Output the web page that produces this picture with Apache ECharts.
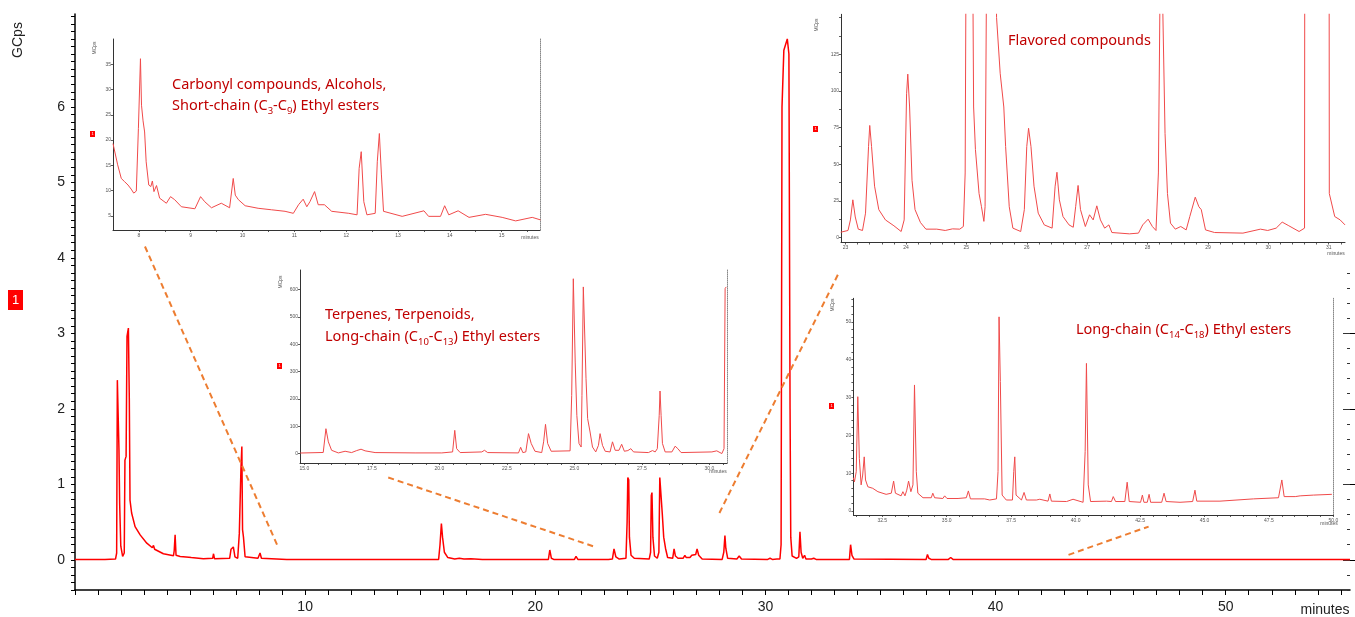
<!DOCTYPE html>
<html>
<head>
<meta charset="utf-8">
<script src="https://cdn.jsdelivr.net/npm/echarts@6/dist/echarts.min.js"></script>
<style>
html, body { margin: 0; padding: 0; background: #fff; }
#main { width: 1355px; height: 617px; }
</style>
</head>
<body>
<div id="main"></div>
<script>
// main chromatogram, [minutes, GCps]
var mainTrace = [
  [0, 0.005], [1.2, 0.005], [1.25, 0.03], [1.3, 0.005], [1.76, 0.01], [1.81, 0.09], [1.84, 2.38], [1.88, 2.39],
  [1.91, 1.46], [1.94, 0.75], [1.99, 0.18], [2.07, 0.044], [2.14, 0.09], [2.17, 1.32], [2.22, 1.37], [2.26, 2.96],
  [2.32, 3.07], [2.36, 2.12], [2.39, 0.79], [2.46, 0.62], [2.61, 0.44], [2.83, 0.33], [3.12, 0.22], [3.36, 0.16],
  [3.41, 0.19], [3.46, 0.14], [3.84, 0.08], [4.28, 0.055], [4.31, 0.12], [4.35, 0.33], [4.39, 0.06], [4.57, 0.045],
  [4.95, 0.035], [5.0, 0.06], [5.05, 0.03], [5.58, 0.015], [5.98, 0.02], [6.02, 0.08], [6.06, 0.015], [6.72, 0.02],
  [6.78, 0.14], [6.83, 0.12], [6.88, 0.17], [6.95, 0.04], [7.07, 0.02], [7.14, 0.35], [7.21, 1.2], [7.25, 1.5],
  [7.28, 0.4], [7.32, 0.3], [7.39, 0.04], [7.95, 0.02], [8.04, 0.09], [8.1, 0.02], [9.2, 0.005], [9.25, 0.02],
  [9.3, 0.005], [9.78, 0.005], [9.82, 0.015], [9.86, 0.005], [11.32, 0.005], [11.38, 0.02], [11.44, 0.005],
  [12.2, 0.005], [12.26, 0.03], [12.32, 0.005], [12.54, 0.005], [12.6, 0.03], [12.66, 0.005], [15.8, 0.005],
  [15.86, 0.2], [15.92, 0.48], [15.97, 0.3], [16.05, 0.1], [16.2, 0.03], [16.5, 0.01], [16.7, 0.02], [16.9, 0.01],
  [17.2, 0.015], [17.7, 0.005], [19.0, 0.005], [19.04, 0.012], [19.1, 0.005], [19.74, 0.005], [19.77, 0.012],
  [19.8, 0.005], [20.57, 0.005], [20.63, 0.13], [20.7, 0.02], [20.8, 0.005], [21.7, 0.005], [21.77, 0.045],
  [21.85, 0.005], [23.06, 0.005], [23.12, 0.03], [23.18, 0.005], [23.35, 0.01], [23.42, 0.145], [23.5, 0.04],
  [23.65, 0.01], [23.94, 0.02], [23.99, 0.5], [24.02, 1.09], [24.06, 1.06], [24.09, 0.3], [24.16, 0.06],
  [24.3, 0.02], [24.95, 0.01], [25.01, 0.1], [25.04, 0.85], [25.07, 0.89], [25.11, 0.3], [25.18, 0.05],
  [25.3, 0.02], [25.37, 0.1], [25.41, 1.09], [25.48, 1.09], [25.52, 0.6], [25.58, 0.3], [25.66, 0.15],
  [25.75, 0.03], [25.97, 0.02], [26.03, 0.145], [26.09, 0.05], [26.2, 0.02], [26.42, 0.02], [26.5, 0.06],
  [26.56, 0.03], [26.72, 0.03], [26.8, 0.06], [26.86, 0.04], [26.97, 0.07], [27.03, 0.145], [27.1, 0.06],
  [27.25, 0.01], [28.12, 0.005], [28.19, 0.1], [28.24, 0.32], [28.28, 0.15], [28.36, 0.02], [28.76, 0.01],
  [28.86, 0.05], [28.96, 0.01], [30.1, 0.005], [30.2, 0.02], [30.3, 0.005], [30.5, 0.01], [30.57, 0.02],
  [30.63, 0.01], [30.68, 0.2], [30.72, 6.0], [30.8, 6.75], [30.95, 6.9], [31.02, 6.7], [31.07, 2.0], [31.1, 0.3],
  [31.16, 0.05], [31.35, 0.02], [31.45, 0.04], [31.5, 0.37], [31.55, 0.1], [31.62, 0.02], [31.7, 0.06],
  [31.76, 0.01], [32.0, 0.01], [32.1, 0.02], [32.2, 0.005], [33.65, 0.005], [33.7, 0.2], [33.76, 0.06],
  [33.85, 0.01], [36.98, 0.005], [37.04, 0.07], [37.1, 0.02], [37.2, 0.005], [37.95, 0.005], [38.05, 0.03],
  [38.15, 0.005], [40.52, 0.005], [40.58, 0.03], [40.65, 0.005], [42.85, 0.005], [42.9, 0.015], [42.95, 0.005],
  [48.2, 0.005], [48.25, 0.015], [48.3, 0.005], [55.4, 0.005]
];

// inset 1: 7.5 - 15.7 min, MCps
var shortChainTrace = [
  [7.5, 19.3], [7.59, 15.1], [7.66, 12.4], [7.72, 11.8], [7.79, 11.1], [7.85, 10.3], [7.9, 9.5], [7.95, 9.9],
  [7.99, 22.3], [8.03, 36.1], [8.05, 26.9], [8.08, 23.8], [8.11, 21.6], [8.14, 15.7], [8.19, 11.1], [8.23, 10.8],
  [8.26, 11.9], [8.29, 9.8], [8.34, 11], [8.4, 8.5], [8.53, 7.5], [8.61, 8.8], [8.69, 8.2], [8.82, 6.8],
  [9.08, 6.4], [9.19, 8.8], [9.27, 7.8], [9.4, 6.6], [9.59, 7.5], [9.75, 6.6], [9.82, 12.4], [9.86, 9.1],
  [9.92, 8.2], [10.05, 7], [10.3, 6.5], [10.56, 6.2], [10.82, 5.9], [10.98, 5.5], [11.08, 7.2], [11.17, 8.3],
  [11.24, 6.8], [11.3, 7.8], [11.39, 9.8], [11.46, 7.2], [11.58, 7.2], [11.72, 5.9], [12.05, 5.5], [12.21, 5.2],
  [12.25, 14.4], [12.29, 17.7], [12.34, 7.8], [12.4, 5.2], [12.56, 5.5], [12.6, 15.7], [12.64, 21.3],
  [12.68, 13.1], [12.72, 5.9], [13.08, 4.9], [13.5, 6], [13.59, 4.9], [13.82, 4.9], [13.9, 7], [13.98, 5.2],
  [14.16, 6], [14.37, 4.7], [14.69, 5.3], [15.01, 4.7], [15.27, 4], [15.59, 4.7], [15.75, 4.2]
];

// inset 2: 14.8 - 30.6 min, MCps
var terpeneTrace = [
  [14.85, 2], [15.7, 4], [15.8, 91], [15.89, 43], [16.01, 12], [16.26, 2.4], [16.51, 8.5], [16.75, 3.7],
  [16.94, 11], [17.1, 16], [17.25, 10], [17.62, 3.7], [19.1, 2.4], [20.09, 2.4], [20.49, 6], [20.57, 85],
  [20.64, 18], [20.77, 3.7], [21.57, 6], [21.67, 12], [21.79, 3.7], [22.93, 2.4], [23.01, 23], [23.09, 3.7],
  [23.2, 6], [23.3, 73], [23.4, 37], [23.54, 8.5], [23.79, 3.7], [23.86, 43], [23.93, 107], [24.01, 37],
  [24.14, 8.5], [24.84, 10], [24.9, 213], [24.96, 640], [25.03, 335], [25.09, 140], [25.17, 37], [25.25, 24],
  [25.28, 213], [25.33, 610], [25.4, 610], [25.43, 274], [25.49, 128], [25.58, 79], [25.67, 24], [25.79, 6],
  [25.89, 30], [25.95, 73], [26.04, 30], [26.14, 8.5], [26.32, 6], [26.41, 43], [26.51, 12], [26.65, 12],
  [26.75, 34], [26.85, 8.5], [26.98, 11], [27.09, 18], [27.19, 6], [27.74, 3.7], [27.89, 11], [27.99, 6],
  [28.07, 18], [28.14, 140], [28.17, 229], [28.21, 140], [28.26, 37], [28.36, 6], [28.61, 6], [28.73, 27],
  [28.83, 18], [28.95, 3.7], [30.09, 6], [30.27, 10], [30.46, 0], [30.54, 18], [30.58, 604], [30.62, 610]
];

// inset 3: 22.9 - 31.3 min, MCps
var flavorTrace = [
  [22.92, 3.6], [23.04, 4.8], [23.08, 12], [23.12, 25.7], [23.16, 14], [23.21, 5.7], [23.28, 4.8], [23.33, 16.6],
  [23.38, 62], [23.4, 76.4], [23.43, 62], [23.48, 35], [23.55, 19], [23.66, 12], [23.8, 8], [23.92, 4.1],
  [23.97, 12], [24.01, 98], [24.03, 111.4], [24.06, 89], [24.1, 39], [24.15, 19], [24.24, 10.2], [24.33, 5.7],
  [24.51, 5.7], [24.65, 4.8], [24.77, 5.9], [24.89, 5.7], [24.95, 7.5], [24.98, 44], [25.04, 640], [25.12, 89],
  [25.15, 60], [25.21, 30], [25.25, 21], [25.29, 11], [25.31, 21], [25.4, 610], [25.5, 150], [25.56, 112],
  [25.62, 89], [25.65, 62], [25.71, 21], [25.77, 6.4], [25.9, 4.1], [25.96, 19], [26.0, 62], [26.03, 74.5],
  [26.07, 62], [26.12, 35], [26.19, 16.6], [26.29, 8.6], [26.42, 6.4], [26.47, 35], [26.5, 44.5], [26.54, 25.7],
  [26.6, 14.3], [26.7, 8.6], [26.77, 7], [26.81, 21], [26.85, 35.5], [26.89, 19], [26.97, 7.5], [27.04, 15.5],
  [27.1, 12], [27.16, 21.6], [27.22, 12], [27.29, 6.4], [27.36, 8.6], [27.41, 3.4], [27.7, 2.5], [27.85, 3],
  [27.92, 8.6], [28.01, 12.5], [28.08, 7.5], [28.14, 4.8], [28.18, 44], [28.22, 229], [28.29, 71], [28.33, 30],
  [28.38, 9.8], [28.46, 5.7], [28.55, 7.5], [28.64, 5.2], [28.7, 14.3], [28.79, 27.5], [28.85, 21], [28.89, 19],
  [28.96, 5.2], [29.11, 3.4], [29.58, 3], [29.87, 5.7], [29.99, 4.8], [30.13, 6.4], [30.23, 10.5], [30.34, 8],
  [30.51, 4.1], [30.6, 6.4], [30.64, 2000], [30.8, 6800], [30.98, 2000], [31.01, 30], [31.1, 14.3],
  [31.19, 12], [31.27, 8.6]
];

// inset 4: 31.4 - 50 min, MCps
var longChainTrace = [
  [31.38, 8.8], [31.42, 7.7], [31.49, 10.4], [31.55, 30.2], [31.61, 13.9], [31.68, 6.9], [31.74, 9.5], [31.8, 14.3],
  [31.85, 8.2], [31.94, 6.4], [32.13, 6], [32.33, 5.1], [32.65, 4.4], [32.85, 4.7], [32.94, 7.9], [33.01, 4.7],
  [33.23, 4], [33.3, 5.1], [33.38, 4], [33.45, 5.5], [33.52, 7.9], [33.61, 5.1], [33.69, 6.9], [33.75, 33.3],
  [33.82, 10.4], [33.88, 4.7], [34.08, 3.5], [34.4, 3.5], [34.46, 4.7], [34.53, 3.5], [34.85, 3.3], [34.92, 4],
  [35.01, 3.3], [35.44, 3.3], [35.5, 3.8], [35.76, 3.5], [35.84, 5.3], [35.92, 3.2], [36.47, 3.2], [36.54, 3.7],
  [36.67, 2.9], [36.93, 3.2], [36.99, 10.4], [37.03, 51.3], [37.08, 34.2], [37.15, 4.2], [37.31, 2.9],
  [37.55, 2.9], [37.6, 10.4], [37.64, 14.3], [37.69, 4.2], [37.9, 2.9], [38.0, 4.9], [38.09, 2.9], [38.48, 2.9],
  [38.61, 3.1], [38.93, 2.6], [39.0, 4.5], [39.06, 2.6], [39.65, 2.5], [39.9, 3.1], [40.29, 2.3], [40.37, 15.7],
  [40.42, 39], [40.49, 6.9], [40.58, 2.5], [41.2, 2.6], [41.39, 2.5], [41.46, 3.8], [41.55, 2.5], [41.91, 2.5],
  [42.0, 7.6], [42.08, 2.5], [42.52, 2.3], [42.59, 4.2], [42.65, 2.3], [42.78, 2.3], [42.85, 4.4], [42.91, 2.3],
  [43.34, 2.3], [43.43, 4.7], [43.51, 2.5], [44.05, 2.3], [44.54, 2.5], [44.63, 5.5], [44.7, 2.6], [45.6, 2.6],
  [46.9, 3.2], [47.87, 3.5], [48.0, 8.2], [48.09, 3.8], [48.52, 3.8], [48.58, 4.2], [48.71, 4], [49.23, 4.2],
  [49.94, 4.4]
];

// dashed connectors from each inset to its region of the main trace (main axes units)
var link1 = [[3.04, 4.15], [8.78, 0.2]];
var link2 = [[13.61, 1.09], [22.61, 0.17]];
var link3 = [[28.0, 0.62], [33.17, 3.79]];
var link4 = [[43.17, 0.066], [46.65, 0.44]];

// tick labels
var mainXLabels = [10, 20, 30, 40, 50];
var mainYLabels = [0, 1, 2, 3, 4, 5, 6];
var inset1XLabels = [8, 9, 10, 11, 12, 13, 14, 15];
var inset1YLabels = [5, 10, 15, 20, 25, 30, 35];
var inset2XLabels = [15, 17.5, 20, 22.5, 25, 27.5, 30];
var inset2YLabels = [0, 100, 200, 300, 400, 500, 600];
var inset3XLabels = [23, 24, 25, 26, 27, 28, 29, 30, 31];
var inset3YLabels = [0, 25, 50, 75, 100, 125];
var inset4XLabels = [32.5, 35, 37.5, 40, 42.5, 45, 47.5, 50];
var inset4YLabels = [0, 10, 20, 30, 40, 50];

function steps(a, b, d) {
  var out = [];
  for (var v = a; v <= b + 1e-9; v += d) out.push(+v.toFixed(3));
  return out;
}
function oneDec(v) { return v.toFixed(1); }

var RED = '#ff0000';
var INSET_RED = '#f04a4a';
var LABEL_RED = '#c00000';
var FONT = 'Liberation Sans';

function insetX(gi, min, max, labels, ticks, fmt) {
  return {
    type: 'value', gridIndex: gi, min: min, max: max, z: 5,
    axisLine: { onZero: false, lineStyle: { color: '#333', width: 1 } },
    axisTick: { customValues: ticks, length: 2, lineStyle: { color: '#333', width: 0.8 } },
    axisLabel: { customValues: labels, fontSize: 5, color: '#555', margin: 3, fontFamily: FONT, formatter: fmt },
    splitLine: { show: false }
  };
}
function insetY(gi, min, max, labels, ticks) {
  return {
    type: 'value', gridIndex: gi, min: min, max: max, z: 5,
    axisLine: { onZero: false, lineStyle: { color: '#333', width: 1 } },
    axisTick: { customValues: ticks, length: 2, lineStyle: { color: '#333', width: 0.8 } },
    axisLabel: { customValues: labels, fontSize: 5, color: '#555', margin: 2, fontFamily: FONT },
    splitLine: { show: false }
  };
}
function dottedRight(gi, min, max) {
  return {
    type: 'value', gridIndex: gi, min: min, max: max, position: 'right', z: 5,
    axisLine: { onZero: false, lineStyle: { color: '#888', width: 1, type: 'dotted' } },
    axisTick: { show: false }, axisLabel: { show: false }, splitLine: { show: false }
  };
}
function trace(data, xi, yi, color, width, z) {
  return {
    type: 'line', data: data, xAxisIndex: xi, yAxisIndex: yi, showSymbol: false, symbol: 'none',
    lineStyle: { color: color, width: width }, z: z, silent: true
  };
}
function link(data) {
  return {
    type: 'line', data: data, xAxisIndex: 0, yAxisIndex: 0, showSymbol: false, symbol: 'none', z: 6,
    lineStyle: { color: '#ed7d31', width: 2, type: [6, 4] }, silent: true
  };
}
function tinyText(x, y, text, rot) {
  return {
    type: 'text', x: x, y: y, rotation: rot || 0, z: 10,
    style: { text: text, fontSize: 5, fill: '#555', fontFamily: FONT, align: 'center', verticalAlign: 'middle' }
  };
}
function redBox(x, y, w, h, fs) {
  return {
    type: 'group', x: x, y: y, z: 10,
    children: [
      { type: 'rect', shape: { x: 0, y: 0, width: w, height: h }, style: { fill: RED }, z: 10 },
      { type: 'text', x: w / 2, y: h / 2, z: 11,
        style: { text: '1', fontSize: fs, fill: '#fff', fontFamily: FONT, align: 'center', verticalAlign: 'middle' } }
    ]
  };
}
function whiteBg(x, y, w, h) {
  return { type: 'rect', shape: { x: x, y: y, width: w, height: h }, style: { fill: '#fff' }, z: 3, silent: true };
}
var richStyle = {
  n: { fontSize: 14.5, fill: LABEL_RED, color: LABEL_RED, fontFamily: 'Noto Sans', lineHeight: 20 },
  s: { fontSize: 9.5, fill: LABEL_RED, color: LABEL_RED, fontFamily: 'Noto Sans', lineHeight: 10, verticalAlign: 'bottom' }
};
function note(x, y, text) {
  return {
    type: 'text', x: x, y: y, z: 10,
    style: { text: text, rich: richStyle, fontSize: 14.5, fill: LABEL_RED, fontFamily: 'Noto Sans',
             align: 'left', verticalAlign: 'middle' }
  };
}

var chart = echarts.init(document.getElementById('main'));
chart.setOption({
  animation: false,
  backgroundColor: '#fff',
  grid: [
    { left: 75, right: 5, top: 14, bottom: 27 },
    { left: 113, top: 39, width: 427, height: 191 },
    { left: 300, top: 270, width: 427, height: 193 },
    { left: 841, top: 14.3, width: 504, height: 228.2 },
    { left: 853.4, top: 298.3, width: 480, height: 216.7 }
  ],
  xAxis: [
    {
      type: 'value', gridIndex: 0, min: 0, max: 55.4,
      axisLine: { onZero: false, lineStyle: { color: '#000', width: 1.5 } },
      axisTick: { customValues: steps(0, 55, 1), length: 5, lineStyle: { color: '#000' } },
      axisLabel: { customValues: mainXLabels, fontSize: 14, color: '#222', margin: 10, fontFamily: FONT },
      splitLine: { show: false }
    },
    insetX(1, 7.5, 15.74, inset1XLabels, steps(8, 15.5, 0.5)),
    insetX(2, 14.84, 30.65, inset2XLabels, steps(15, 30.5, 0.5), oneDec),
    insetX(3, 22.924, 31.27, inset3XLabels, steps(23, 31.2, 0.2)),
    insetX(4, 31.38, 50, inset4XLabels, steps(31.5, 50, 0.5), oneDec)
  ],
  yAxis: [
    {
      type: 'value', gridIndex: 0, min: -0.4, max: 7.23,
      axisLine: { onZero: false, lineStyle: { color: '#000', width: 1.5 } },
      axisTick: { customValues: steps(-0.4, 7.2, 0.1), length: 4, lineStyle: { color: '#000' } },
      axisLabel: { customValues: mainYLabels, fontSize: 14, color: '#222', margin: 10, fontFamily: FONT },
      splitLine: { show: false }
    },
    {
      type: 'value', gridIndex: 0, min: -0.4, max: 7.23,
      axisLine: { show: false, onZero: false },
      axisTick: { customValues: steps(0, 7, 1), length: 8, lineStyle: { color: '#000' } },
      axisLabel: { show: false }, splitLine: { show: false }
    },
    {
      type: 'value', gridIndex: 0, min: -0.4, max: 7.23, position: 'right',
      axisLine: { show: false, onZero: false },
      axisTick: { customValues: steps(-0.4, 7.2, 0.2), inside: true, length: 3, lineStyle: { color: '#333' } },
      axisLabel: { show: false }, splitLine: { show: false }
    },
    {
      type: 'value', gridIndex: 0, min: -0.4, max: 7.23, position: 'right',
      axisLine: { show: false, onZero: false },
      axisTick: { customValues: steps(0, 7, 1), inside: true, length: 7, lineStyle: { color: '#333' } },
      axisLabel: { show: false }, splitLine: { show: false }
    },
    insetY(1, 2.2, 40, inset1YLabels, inset1YLabels),
    dottedRight(1, 2.2, 40),
    insetY(2, -34.5, 672, inset2YLabels, inset2YLabels),
    dottedRight(2, -34.5, 672),
    insetY(3, -3.4, 152.2, inset3YLabels, steps(0, 150, 12.5)),
    insetY(4, -1.06, 56.2, inset4YLabels, steps(0, 56, 2)),
    dottedRight(4, -1.06, 56.2)
  ],
  series: [
    trace(mainTrace, 0, 0, RED, 1.5, 2),
    trace(shortChainTrace, 1, 4, INSET_RED, 1, 5),
    trace(terpeneTrace, 2, 6, INSET_RED, 1, 5),
    trace(flavorTrace, 3, 8, INSET_RED, 1, 5),
    trace(longChainTrace, 4, 9, INSET_RED, 1, 5),
    link(link1), link(link2), link(link3), link(link4)
  ],
  graphic: [
    whiteBg(86, 34, 460, 208),
    whiteBg(272, 264, 462, 212),
    whiteBg(802, 4, 553, 262),
    whiteBg(824, 290, 514, 240),
    {
      type: 'text', x: 18, y: 40, rotation: Math.PI / 2, z: 10,
      style: { text: 'GCps', fontSize: 14, fill: '#222', fontFamily: FONT, align: 'center', verticalAlign: 'middle' }
    },
    {
      type: 'text', x: 1325, y: 610, z: 10,
      style: { text: 'minutes', fontSize: 14, fill: '#222', fontFamily: FONT, align: 'center', verticalAlign: 'middle' }
    },
    redBox(8, 290, 15, 20, 13),
    redBox(90, 131, 5, 6, 4),
    redBox(277, 363, 5, 6, 4),
    redBox(813, 126, 5, 6, 4),
    redBox(829, 403, 5, 6, 4),
    tinyText(95, 48, 'MCps', Math.PI / 2),
    tinyText(281, 282, 'MCps', Math.PI / 2),
    tinyText(817, 25, 'MCps', Math.PI / 2),
    tinyText(833, 305, 'MCps', Math.PI / 2),
    tinyText(530, 238, 'minutes'),
    tinyText(718, 472, 'minutes'),
    tinyText(1336, 254, 'minutes'),
    tinyText(1329, 524, 'minutes'),
    note(172, 85, '{n|Carbonyl compounds, Alcohols,}'),
    note(172, 106, '{n|Short-chain (C}{s|3}{n|-C}{s|9}{n|) Ethyl esters}'),
    note(325, 315, '{n|Terpenes, Terpenoids,}'),
    note(325, 337, '{n|Long-chain (C}{s|10}{n|-C}{s|13}{n|) Ethyl esters}'),
    note(1008, 41, '{n|Flavored compounds}'),
    note(1076, 330, '{n|Long-chain (C}{s|14}{n|-C}{s|18}{n|) Ethyl esters}')
  ]
});
</script>
</body>
</html>
